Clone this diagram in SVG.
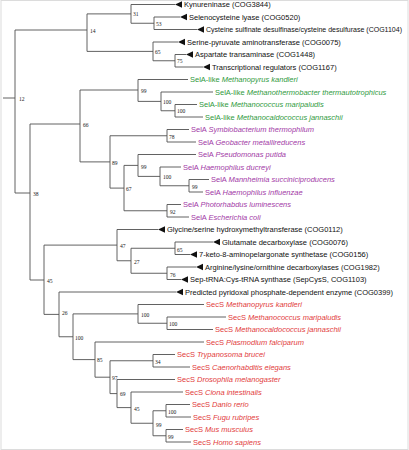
<svg xmlns="http://www.w3.org/2000/svg" xmlns:xlink="http://www.w3.org/1999/xlink" width="409" height="450" viewBox="0 0 409 450">
<defs>
<path id="tri" d="M0,0 L7,-3.2 L7,3.2 Z" fill="#111"/>
<style>
.t{font-family:"Liberation Sans",Arial,sans-serif;font-size:7.5px;fill:#111}
.g{fill:#2f9a40}.p{fill:#a23aa6}.r{fill:#e23c3c}
.i{font-style:italic}
.b{font-family:"Liberation Serif","Times New Roman",serif;font-size:5.6px;fill:#222}
.ln{fill:none;stroke:#505050;stroke-width:0.9}
</style>
</defs>
<rect x="1" y="0.5" width="407" height="449" fill="#fff" stroke="#dcdcdc" stroke-width="1"/>
<g id="connectors" class="ln">
<path d="M3,98H15 M15,30V193
M15,30H87 M87,13.9V51.4
M87,13.9H131 M131,4.5V23.25 M131,4.5H175
M131,23.25H154 M154,17V29.5 M154,17H180 M154,29.5H197
M87,51.4H153 M153,42V60.75 M153,42H178
M153,60.75H175 M175,54.5V67 M175,54.5H186 M175,67H203
M15,193H30 M30,124V280
M30,124H80 M80,90V161.9
M80,90H138 M138,79.5V101.4 M138,79.5H188
M138,101.4H161 M161,92V110.75 M161,92H213
M161,110.75H175 M175,104.5V117 M175,104.5H197 M175,117H203
M80,161.9H110 M110,135.75V188.1
M110,135.75H167 M167,129.5V142 M167,129.5H189 M167,142H196
M110,188.1H124 M124,165.4V210.75
M124,165.4H138 M138,154.5V176.4 M138,154.5H196
M138,176.4H160 M160,167V185.75 M160,167H181
M160,185.75H189 M189,179.5V192 M189,179.5H209 M189,192H203
M124,210.75H167 M167,204.5V217 M167,204.5H181 M167,217H189
M30,280H44 M44,245.1V314.4
M44,245.1H117 M117,229.5V260.75 M117,229.5H158
M117,260.75H131 M131,248.25V273.25
M131,248.25H175 M175,242V254.5 M175,242H213 M175,254.5H190
M131,273.25H167 M167,267V279.5 M167,267H196 M167,279.5H181
M44,314.4H59 M59,292V336.75 M59,292H176
M59,336.75H73 M73,313.9V359.6
M73,313.9H138 M138,304.5V323.25 M138,304.5H204
M138,323.25H167 M167,317V329.5 M167,317H226 M167,329.5H213
M73,359.6H95 M95,342V377.2 M95,342H204
M95,377.2H110 M110,360.75V393.6
M110,360.75H153 M153,354.5V367 M153,354.5H175 M153,367H190
M110,393.6H117 M117,379.5V407.6 M117,379.5H175
M117,407.6H131 M131,392V423.25 M131,392H183
M131,423.25H153 M153,410.75V435.75
M153,410.75H166 M166,404.5V417 M166,404.5H190 M166,417H191
M153,435.75H166 M166,429.5V442 M166,429.5H183 M166,442H191"/>
</g>
<g id="bootstrap">
<g id="b12"><text class="b" x="19" y="101">12</text></g>
<g id="b14"><text class="b" x="90" y="33">14</text></g>
<g id="b31"><text class="b" x="133" y="16">31</text></g>
<g id="b53"><text class="b" x="156" y="26">53</text></g>
<g id="b65a"><text class="b" x="155" y="54">65</text></g>
<g id="b75"><text class="b" x="177" y="63">75</text></g>
<g id="b99a"><text class="b" x="141" y="93">99</text></g>
<g id="b100a"><text class="b" x="163" y="104">100</text></g>
<g id="b100b"><text class="b" x="177" y="113">100</text></g>
<g id="b66"><text class="b" x="83" y="127">66</text></g>
<g id="b78"><text class="b" x="169" y="139">78</text></g>
<g id="b89"><text class="b" x="112" y="165">89</text></g>
<g id="b67"><text class="b" x="126" y="191">67</text></g>
<g id="b99b"><text class="b" x="141" y="169">99</text></g>
<g id="b100c"><text class="b" x="163" y="179">100</text></g>
<g id="b99c"><text class="b" x="192" y="189">99</text></g>
<g id="b92"><text class="b" x="170" y="214">92</text></g>
<g id="b38"><text class="b" x="33" y="196">38</text></g>
<g id="b45a"><text class="b" x="47" y="283">45</text></g>
<g id="b47"><text class="b" x="120" y="248">47</text></g>
<g id="b27"><text class="b" x="134" y="264">27</text></g>
<g id="b65b"><text class="b" x="177" y="252">65</text></g>
<g id="b76"><text class="b" x="170" y="277">76</text></g>
<g id="b26"><text class="b" x="62" y="315">26</text></g>
<g id="b100d"><text class="b" x="75" y="340">100</text></g>
<g id="b100e"><text class="b" x="141" y="317">100</text></g>
<g id="b100f"><text class="b" x="169" y="326">100</text></g>
<g id="b85"><text class="b" x="97" y="362">85</text></g>
<g id="b34"><text class="b" x="155" y="364">34</text></g>
<g id="b97"><text class="b" x="112" y="380">97</text></g>
<g id="b69"><text class="b" x="120" y="396">69</text></g>
<g id="b45b"><text class="b" x="134" y="411">45</text></g>
<g id="b99d"><text class="b" x="156" y="427">99</text></g>
<g id="b100g"><text class="b" x="168" y="414">100</text></g>
<g id="b99e"><text class="b" x="168" y="439">99</text></g>
</g>
<g id="leaf1"><use xlink:href="#tri" href="#tri" x="175" y="4.5"/><text class="t" x="184" y="7.1">Kynureninase (COG3844)</text></g>
<g id="leaf2"><use xlink:href="#tri" href="#tri" x="180" y="17"/><text class="t" x="189" y="19.6">Selenocysteine lyase (COG0520)</text></g>
<g id="leaf3"><use xlink:href="#tri" href="#tri" x="197" y="29.5"/><text class="t" x="206" y="32.1" style="font-size:7px">Cysteine sulfinate desulfinase/cysteine desulfurase (COG1104)</text></g>
<g id="leaf4"><use xlink:href="#tri" href="#tri" x="178" y="42"/><text class="t" x="187" y="44.6">Serine-pyruvate aminotransferase (COG0075)</text></g>
<g id="leaf5"><use xlink:href="#tri" href="#tri" x="186" y="54.5"/><text class="t" x="195" y="57.1">Aspartate transaminase (COG1448)</text></g>
<g id="leaf6"><use xlink:href="#tri" href="#tri" x="203" y="67"/><text class="t" x="212" y="69.6">Transcriptional regulators (COG1167)</text></g>
<g id="leaf7"><text class="t g" x="190" y="82.1">SelA-like <tspan class="i">Methanopyrus kandleri</tspan></text></g>
<g id="leaf8"><text class="t g" x="215" y="94.6">SelA-like <tspan class="i">Methanothermobacter thermautotrophicus</tspan></text></g>
<g id="leaf9"><text class="t g" x="199" y="107.1">SelA-like <tspan class="i">Methanococcus maripaludis</tspan></text></g>
<g id="leaf10"><text class="t g" x="205" y="119.6">SelA-like <tspan class="i">Methanocaldococcus jannaschii</tspan></text></g>
<g id="leaf11"><text class="t p" x="191" y="132.1">SelA <tspan class="i">Symbiobacterium thermophilum</tspan></text></g>
<g id="leaf12"><text class="t p" x="198" y="144.6">SelA <tspan class="i">Geobacter metallireducens</tspan></text></g>
<g id="leaf13"><text class="t p" x="198" y="157.1">SelA <tspan class="i">Pseudomonas putida</tspan></text></g>
<g id="leaf14"><text class="t p" x="183" y="169.6">SelA <tspan class="i">Haemophilus ducreyi</tspan></text></g>
<g id="leaf15"><text class="t p" x="211" y="182.1">SelA <tspan class="i">Mannheimia succiniciproducens</tspan></text></g>
<g id="leaf16"><text class="t p" x="205" y="194.6">SelA <tspan class="i">Haemophilus influenzae</tspan></text></g>
<g id="leaf17"><text class="t p" x="183" y="207.1">SelA <tspan class="i">Photorhabdus luminescens</tspan></text></g>
<g id="leaf18"><text class="t p" x="191" y="219.6">SelA <tspan class="i">Escherichia coli</tspan></text></g>
<g id="leaf19"><use xlink:href="#tri" href="#tri" x="158" y="229.5"/><text class="t" x="167" y="232.1">Glycine/serine hydroxymethyltransferase (COG0112)</text></g>
<g id="leaf20"><use xlink:href="#tri" href="#tri" x="213" y="242"/><text class="t" x="222" y="244.6">Glutamate decarboxylase (COG0076)</text></g>
<g id="leaf21"><use xlink:href="#tri" href="#tri" x="190" y="254.5"/><text class="t" x="199" y="257.1">7-keto-8-aminopelargonate synthetase (COG0156)</text></g>
<g id="leaf22"><use xlink:href="#tri" href="#tri" x="196" y="267"/><text class="t" x="205" y="269.6">Arginine/lysine/ornithine decarboxylases (COG1982)</text></g>
<g id="leaf23"><use xlink:href="#tri" href="#tri" x="181" y="279.5"/><text class="t" x="190" y="282.1">Sep-tRNA:Cys-tRNA synthase (SepCysS, COG1103)</text></g>
<g id="leaf24"><use xlink:href="#tri" href="#tri" x="176" y="292"/><text class="t" x="185" y="294.6">Predicted pyridoxal phosphate-dependent enzyme (COG0399)</text></g>
<g id="leaf25"><text class="t r" x="206" y="307.1">SecS <tspan class="i">Methanopyrus kandleri</tspan></text></g>
<g id="leaf26"><text class="t r" x="228" y="319.6">SecS <tspan class="i">Methanococcus maripaludis</tspan></text></g>
<g id="leaf27"><text class="t r" x="215" y="332.1">SecS <tspan class="i">Methanocaldococcus jannaschii</tspan></text></g>
<g id="leaf28"><text class="t r" x="206" y="344.6">SecS <tspan class="i">Plasmodium falciparum</tspan></text></g>
<g id="leaf29"><text class="t r" x="177" y="357.1">SecS <tspan class="i">Trypanosoma brucei</tspan></text></g>
<g id="leaf30"><text class="t r" x="192" y="369.6">SecS <tspan class="i">Caenorhabditis elegans</tspan></text></g>
<g id="leaf31"><text class="t r" x="177" y="382.1">SecS <tspan class="i">Drosophila melanogaster</tspan></text></g>
<g id="leaf32"><text class="t r" x="185" y="394.6">SecS <tspan class="i">Ciona intestinalis</tspan></text></g>
<g id="leaf33"><text class="t r" x="192" y="407.1">SecS <tspan class="i">Danio rerio</tspan></text></g>
<g id="leaf34"><text class="t r" x="193" y="419.6">SecS <tspan class="i">Fugu rubripes</tspan></text></g>
<g id="leaf35"><text class="t r" x="185" y="432.1">SecS <tspan class="i">Mus musculus</tspan></text></g>
<g id="leaf36"><text class="t r" x="193" y="444.6">SecS <tspan class="i">Homo sapiens</tspan></text></g>
</svg>
